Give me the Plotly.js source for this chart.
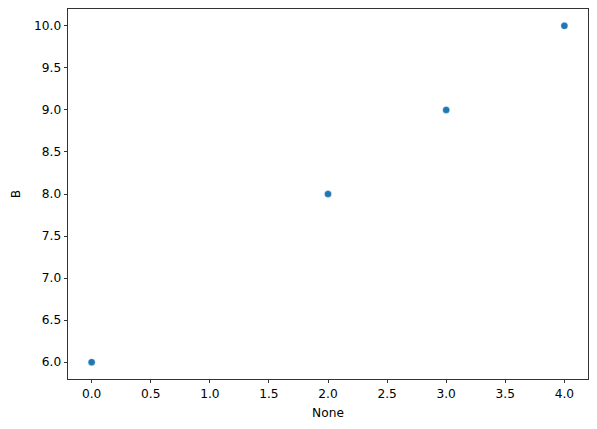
<!DOCTYPE html>
<html>
<head>
<meta charset="utf-8">
<script src="https://cdn.plot.ly/plotly-3.0.1.min.js"></script>
<style>html,body{margin:0;padding:0;background:#fff;}#chart{width:597px;height:429px;}</style>
</head>
<body>
<div id="chart"></div>
<script>
const xValues = [0, 2, 3, 4];
const bValues = [6, 8, 9, 10];
const xTicks = [0, 0.5, 1, 1.5, 2, 2.5, 3, 3.5, 4];
const xTickText = ["0.0","0.5","1.0","1.5","2.0","2.5","3.0","3.5","4.0"];
const yTicks = [6, 6.5, 7, 7.5, 8, 8.5, 9, 9.5, 10];
const yTickText = ["6.0","6.5","7.0","7.5","8.0","8.5","9.0","9.5","10.0"];

const font = {family: "DejaVu Sans", size: 12.2, color: "#000"};
Plotly.newPlot("chart", [{
  x: xValues, y: bValues, type: "scatter", mode: "markers",
  marker: {color: "#1f77b4", size: 7, line: {color: "#fff", width: 0.3}},
  hoverinfo: "skip"
}], {
  width: 597, height: 429,
  margin: {l: 68, r: 9, t: 9, b: 50},
  paper_bgcolor: "#fff", plot_bgcolor: "#fff",
  font: font,
  showlegend: false,
  xaxis: {
    range: [-0.2, 4.2], tickvals: xTicks, ticktext: xTickText,
    ticks: "outside", ticklen: 3.5, tickwidth: 0.8, tickcolor: "#000",
    showline: true, linecolor: "#000", linewidth: 0.8, mirror: true,
    showgrid: false, zeroline: false, tickfont: font,
    title: {text: "None", font: font, standoff: 8}
  },
  yaxis: {
    range: [5.8, 10.2], tickvals: yTicks, ticktext: yTickText,
    ticks: "outside", ticklen: 3.5, tickwidth: 0.8, tickcolor: "#000",
    showline: true, linecolor: "#000", linewidth: 0.8, mirror: true,
    showgrid: false, zeroline: false, tickfont: font,
    title: {text: "B", font: font, standoff: 10}
  }
}, {staticPlot: true});
</script>
</body>
</html>
